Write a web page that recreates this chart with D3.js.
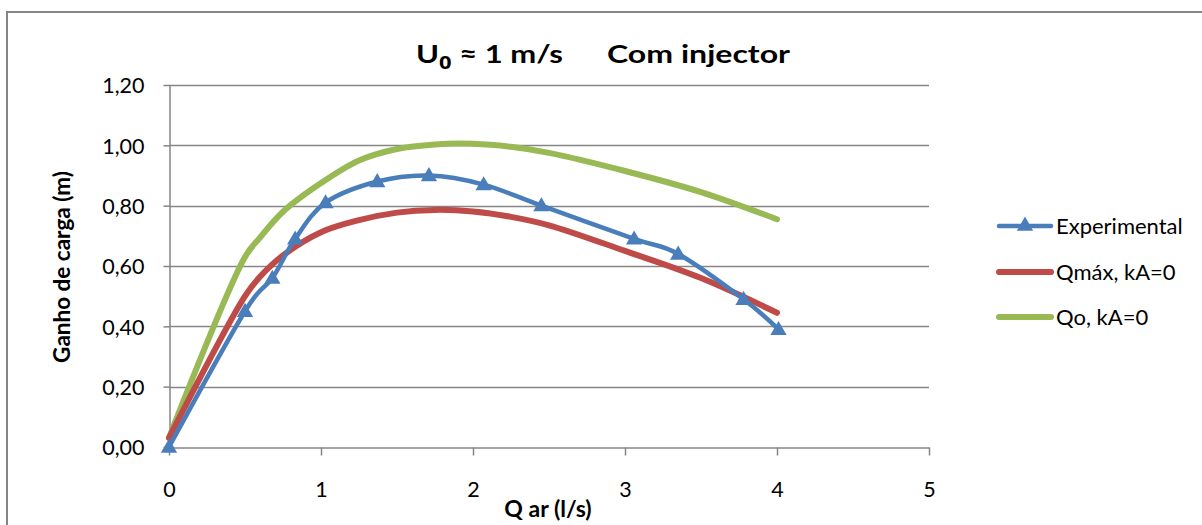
<!DOCTYPE html>
<html>
<head>
<meta charset="utf-8">
<script src="https://cdn.jsdelivr.net/npm/d3@7"></script>
<style>
  body { margin: 0; background: #fff; }
  svg { display: block; font-family: Lato, "Open Sans", sans-serif; }
</style>
</head>
<body>
<div id="chart"></div>
<script>
// chart data
var qAr = [0, 0.50, 0.68, 0.83, 1.03, 1.37, 1.71, 2.07, 2.45, 3.06, 3.35, 3.78, 4.01];
var experimental = [0, 0.45, 0.56, 0.69, 0.81, 0.88, 0.90, 0.87, 0.80, 0.69, 0.64, 0.49, 0.39];

// theoretical curves
var qArModel = [0, 0.5, 0.6, 0.75, 1.0, 1.25, 1.5, 1.75, 2.0, 2.25, 2.5, 3.0, 3.5, 4.0];
var qMaxKA0 = [0.03, 0.50, 0.565, 0.635, 0.712, 0.752, 0.777, 0.786, 0.781, 0.763, 0.735, 0.65, 0.56, 0.445];
var qoKA0 = [0.03, 0.63, 0.695, 0.78, 0.875, 0.95, 0.988, 1.003, 1.005, 0.995, 0.975, 0.915, 0.845, 0.755];

var xTicks = [0, 1, 2, 3, 4, 5];
var yTicks = [0, 0.2, 0.4, 0.6, 0.8, 1.0, 1.2];
var seriesNames = ["Experimental", "Qmáx, kA=0", "Qo, kA=0"];
var seriesColors = ["#4A7EBB", "#BE4B48", "#98B954"];

var W = 1202, H = 525;
var plot = {left: 169, right: 929, top: 85, bottom: 447};
var axisColor = "#868686";

var svg = d3.select("#chart").append("svg")
	.attr("width", W)
	.attr("height", H);

// outer chart border (runs off the right and bottom of the picture)
svg.append("rect")
	.attr("x", 7).attr("y", 12)
	.attr("width", 1220).attr("height", 540)
	.attr("fill", "none")
	.attr("stroke", axisColor)
	.attr("stroke-width", 2);

var x = d3.scaleLinear().domain([0, 5]).range([plot.left, plot.right]);
var y = d3.scaleLinear().domain([0, 1.2]).range([plot.bottom, plot.top]);

// horizontal gridlines
svg.append("g")
	.selectAll("line")
	.data(yTicks.slice(1))
	.enter()
	.append("line")
	.attr("x1", plot.left).attr("x2", plot.right)
	.attr("y1", d => Math.round(y(d)) + 0.5)
	.attr("y2", d => Math.round(y(d)) + 0.5)
	.attr("stroke", axisColor)
	.attr("stroke-width", 1.3);

// y axis
var yAxis = svg.append("g")
	.attr("transform", "translate(" + (plot.left + 0.5) + ",0)")
	.call(d3.axisLeft(y)
		.tickValues(yTicks)
		.tickSize(6)
		.tickSizeOuter(0)
		.tickPadding(19)
		.tickFormat(d => d.toFixed(2).replace(".", ",")));

// x axis
var xAxis = svg.append("g")
	.attr("transform", "translate(0," + (plot.bottom + 0.5) + ")")
	.call(d3.axisBottom(x)
		.tickValues(xTicks)
		.tickSize(8)
		.tickSizeOuter(0)
		.tickPadding(26)
		.tickFormat(d3.format("d")));

[yAxis, xAxis].forEach(function(g) {
	g.select(".domain").attr("stroke", axisColor).attr("stroke-width", 1.5);
	g.selectAll(".tick line").attr("stroke", axisColor).attr("stroke-width", 1.5);
	g.selectAll(".tick text")
		.attr("fill", "#000")
		.style("font-size", "21.5px")
		.style("font-family", "Lato, sans-serif");
});
yAxis.selectAll(".tick text").attr("dy", "0.36em");

// experimental: Excel style smoothing; model curves: centripetal
var expLine = d3.line()
	.x(d => x(d[0]))
	.y(d => y(d[1]))
	.curve(d3.curveCatmullRom.alpha(0));
var modelLine = d3.line()
	.x(d => x(d[0]))
	.y(d => y(d[1]))
	.curve(d3.curveCatmullRom.alpha(0.5));

var lineWidths = [4.5, 6, 6];

var seriesPts = [
	qAr.map((q, k) => [q, experimental[k]]),
	qArModel.map((q, k) => [q, qMaxKA0[k]]),
	qArModel.map((q, k) => [q, qoKA0[k]])
];

[2, 1, 0].forEach(function(i) {
	svg.append("path")
		.datum(seriesPts[i])
		.attr("d", i == 0 ? expLine : modelLine)
		.attr("fill", "none")
		.attr("stroke", seriesColors[i])
		.attr("stroke-width", lineWidths[i])
		.attr("stroke-linecap", "round")
		.attr("stroke-linejoin", "round");
});

// experimental markers
var tri = d3.symbol().type(d3.symbolTriangle).size(115);
svg.append("g")
	.selectAll("path")
	.data(seriesPts[0])
	.enter()
	.append("path")
	.attr("d", tri)
	.attr("transform", d => "translate(" + x(d[0]) + "," + (y(d[1]) + 1) + ")")
	.attr("fill", seriesColors[0]);

// title
var title = svg.append("text")
	.attr("x", 416).attr("y", 63)
	.attr("font-weight", "bold")
	.attr("textLength", 147)
	.attr("lengthAdjust", "spacingAndGlyphs")
	.style("font-size", "24px");
title.append("tspan").text("U");
title.append("tspan").attr("dy", 6)
	.style("font-size", "17px")
	.style("font-family", "'Open Sans', sans-serif")
	.text("0");
title.append("tspan").attr("dy", -6).text(" ≈ 1 m/s");
svg.append("text")
	.attr("x", 607).attr("y", 63)
	.attr("font-weight", "bold")
	.attr("textLength", 183)
	.attr("lengthAdjust", "spacingAndGlyphs")
	.style("font-size", "24px")
	.text("Com injector");

// axis titles
svg.append("text")
	.attr("transform", "translate(70,267) rotate(-90)")
	.attr("text-anchor", "middle")
	.attr("font-weight", "bold")
	.style("font-size", "22.5px")
	.text("Ganho de carga (m)");

svg.append("text")
	.attr("x", 548).attr("y", 517)
	.attr("text-anchor", "middle")
	.attr("font-weight", "bold")
	.style("font-size", "23px")
	.text("Q ar (l/s)");

// legend
var legend = svg.append("g");
var legendY = [226, 272, 317];
seriesNames.forEach(function(name, i) {
	var row = legend.append("g").attr("transform", "translate(0," + legendY[i] + ")");
	row.append("line")
		.attr("x1", 999).attr("x2", 1051)
		.attr("stroke", seriesColors[i])
		.attr("stroke-width", lineWidths[i])
		.attr("stroke-linecap", "round");
	if (i == 0) {
		row.append("path")
			.attr("d", tri)
			.attr("transform", "translate(1025,0)")
			.attr("fill", seriesColors[0]);
	}
	row.append("text")
		.attr("x", 1056).attr("dy", "0.36em")
		.style("font-size", "22px")
		.text(name);
});
</script>
</body>
</html>
